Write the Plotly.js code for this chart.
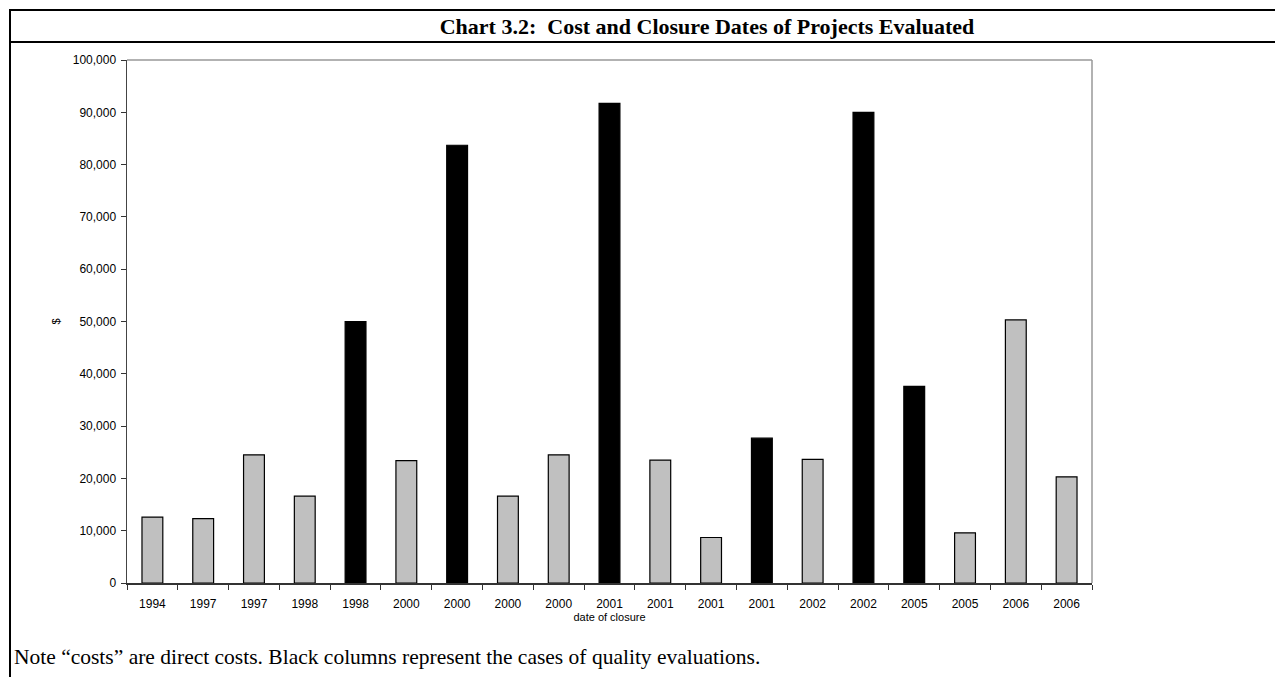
<!DOCTYPE html>
<html>
<head>
<meta charset="utf-8">
<script src="https://cdn.plot.ly/plotly-3.0.1.min.js"></script>
<style>
  html, body { margin: 0; padding: 0; background: #fff; }
  #wrap { position: relative; width: 1275px; height: 677px; overflow: hidden; }
  #chart { position: absolute; left: 0; top: 0; width: 1275px; height: 677px; }
  .rule { position: absolute; background: #000; pointer-events: none; }
</style>
</head>
<body>
<div id="wrap">
  <div id="chart"></div>
  <div class="rule" style="left:9px; top:9px; width:1266px; height:2px;"></div>
  <div class="rule" style="left:9px; top:41px; width:1266px; height:2px;"></div>
  <div class="rule" style="left:9px; top:9px; width:2px; height:668px;"></div>
</div>
<script>
// ---- data ----
const closureYears = ["1994","1997","1997","1998","1998","2000","2000","2000","2000","2001",
                      "2001","2001","2001","2002","2002","2005","2005","2006","2006"];
const costs = [12600, 12300, 24500, 16600, 50000, 23400, 83700, 16600, 24500, 91700,
               23500, 8700, 27700, 23650, 90000, 37600, 9600, 50300, 20300];
const qualityEvaluation = [false, false, false, false, true, false, true, false, false, true,
                           false, false, true, false, true, true, false, false, false];

const positions = closureYears.map((_, i) => i);
const colors = qualityEvaluation.map(q => q ? "#000000" : "#C0C0C0");

const trace = {
  type: "bar",
  x: positions,
  y: costs,
  marker: { color: colors, line: { color: "#000000", width: 1.2 } },
  width: 0.41,
  hoverinfo: "y",
  showlegend: false
};

const axisFont = { family: "Liberation Sans, Arial, sans-serif", size: 12, color: "#000" };

const layout = {
  width: 1275, height: 677,
  margin: { l: 127, r: 183, t: 60, b: 94 },
  paper_bgcolor: "rgba(0,0,0,0)",
  plot_bgcolor: "#fff",
  title: {
    text: "<b>Chart 3.2:  Cost and Closure Dates of Projects Evaluated</b>",
    font: { family: "Liberation Serif, Times New Roman, serif", size: 22, color: "#000" },
    xref: "container", x: 0.5545, xanchor: "center",
    yref: "container", y: 0.9616, yanchor: "middle"
  },
  xaxis: {
    range: [-0.5, closureYears.length - 0.5],
    tickmode: "array",
    tickvals: positions,
    ticktext: closureYears,
    ticks: "",
    ticklabelstandoff: 9,
    tickfont: axisFont,
    showgrid: false, zeroline: false,
    showline: true, linecolor: "#333", linewidth: 1.5,
    minor: { ticks: "outside", tick0: -0.5, dtick: 1, ticklen: 5, tickcolor: "#333", tickwidth: 1, showgrid: false },
    title: { text: "date of closure", font: { family: "Liberation Sans, Arial, sans-serif", size: 11, color: "#000" }, standoff: 1 },
    fixedrange: true
  },
  yaxis: {
    range: [0, 100000],
    dtick: 10000,
    tickformat: ",",
    ticks: "outside", ticklen: 5, tickcolor: "#333", tickwidth: 1,
    ticklabelstandoff: 2,
    tickfont: axisFont,
    showgrid: false, zeroline: false,
    showline: true, linecolor: "#444", linewidth: 1.5,
    title: { text: "$", font: { family: "Liberation Sans, Arial, sans-serif", size: 11, color: "#000" }, standoff: 10 },
    fixedrange: true
  },
  shapes: [
    { type: "line", xref: "paper", yref: "paper", x0: 0, x1: 1, y0: 1, y1: 1, line: { color: "#999", width: 1.5 }, layer: "below" },
    { type: "line", xref: "paper", yref: "paper", x0: 1, x1: 1, y0: 0, y1: 1, line: { color: "#999", width: 1.5 }, layer: "below" }
  ],
  annotations: [
    {
      text: "Note “costs” are direct costs. Black columns represent the cases of quality evaluations.",
      xref: "paper", yref: "paper",
      x: (12 - 127) / (1275 - 127 - 183), xanchor: "left",
      y: -(657 - 583) / (583 - 60), yanchor: "middle",
      showarrow: false,
      font: { family: "Liberation Serif, Times New Roman, serif", size: 21.5, color: "#000" }
    }
  ]
};

Plotly.newPlot("chart", [trace], layout, { displayModeBar: false, staticPlot: true });
</script>
</body>
</html>
